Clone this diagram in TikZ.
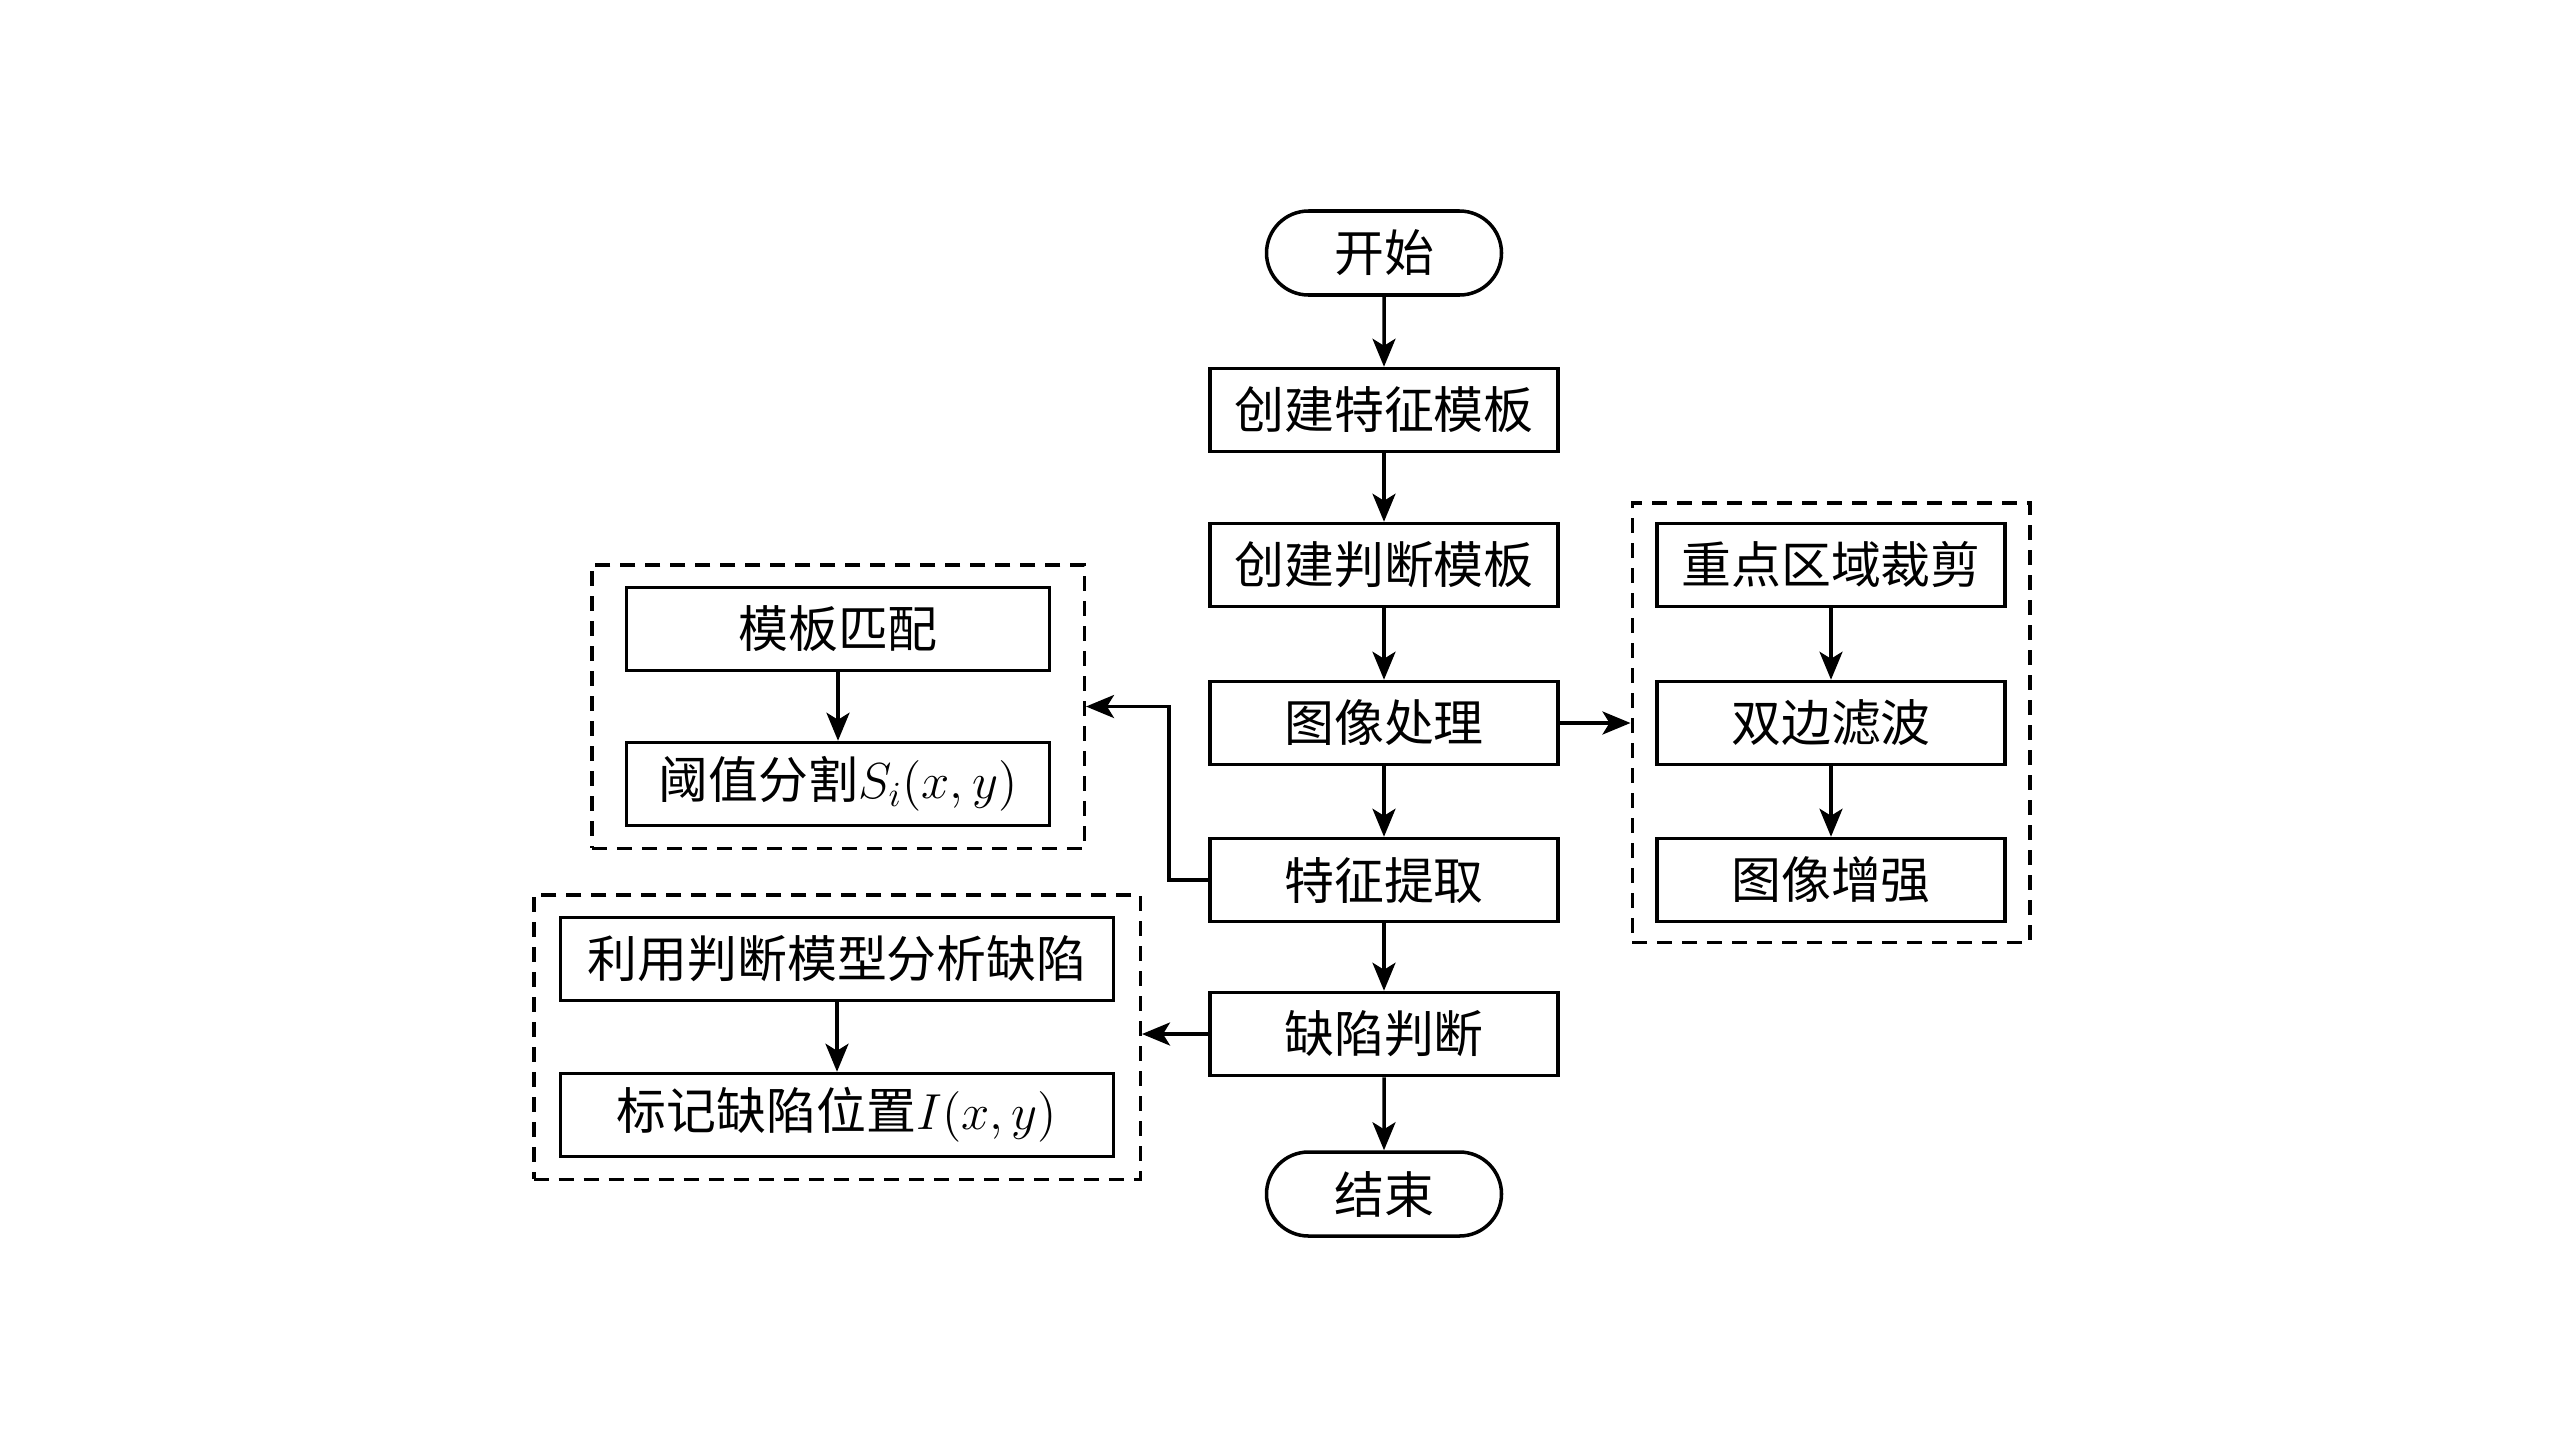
\documentclass[tikz,border=0pt]{standalone}
\usepackage{fontspec}
\newfontfamily\cjk{Noto Sans CJK SC}
\usepackage{tikz}
\usetikzlibrary{arrows.meta}
\usetikzlibrary{shapes.misc}
\usetikzlibrary{fit}
\newcommand{\boxfont}{\cjk\fontsize{14.2}{17}\selectfont}
\tikzset{
	termstyle/.style={rounded rectangle,draw=black,line width=1pt,minimum width=2.35cm,minimum height=0.84cm,inner sep=0pt,font=\boxfont},
	boxstyle/.style={rectangle,draw=black,line width=1pt,minimum width=3.48cm,minimum height=0.83cm,inner sep=0pt,font=\boxfont},
	groupstyle/.style={rectangle,draw=black,line width=1pt,dash pattern=on 1.5mm off 1mm},
	arrowstyle/.style={-{Stealth[length=2.8mm,width=2.3mm,inset=0.7mm]},line width=1pt}
}

\begin{document}
\begin{tikzpicture}
		\useasboundingbox (0,0) rectangle (25.6,-14.4);
		% main column
		\node[termstyle] (start) at (13.84,-2.53) {开始};
		\node[boxstyle] (mkfeat) at (13.84,-4.10) {创建特征模板};
		\node[boxstyle] (mkjudge) at (13.84,-5.65) {创建判断模板};
		\node[boxstyle] (imgproc) at (13.84,-7.23) {图像处理};
		\node[boxstyle] (featext) at (13.84,-8.80) {特征提取};
		\node[boxstyle] (defjudge) at (13.84,-10.34) {缺陷判断};
		\node[termstyle] (finish) at (13.84,-11.94) {结束};
		% image processing group
		\node[boxstyle] (crop) at (18.31,-5.65) {重点区域裁剪};
		\node[boxstyle] (filter) at (18.31,-7.23) {双边滤波};
		\node[boxstyle] (enhance) at (18.31,-8.80) {图像增强};
		\node[groupstyle,fit=(crop)(enhance),inner xsep=0.23cm,inner ysep=0.19cm] (grpproc) {};
		% feature group
		\node[boxstyle,minimum width=4.23cm] (match) at (8.38,-6.29) {模板匹配};
		\node[boxstyle,minimum width=4.23cm] (thresh) at (8.38,-7.84) {阈值分割$S_i(x,y)$};
		\node[groupstyle,fit=(match)(thresh),inner xsep=0.33cm,inner ysep=0.21cm] (grpfeat) {};
		% defect group
		\node[boxstyle,minimum width=5.53cm] (analyse) at (8.37,-9.59) {利用判断模型分析缺陷};
		\node[boxstyle,minimum width=5.53cm] (mark) at (8.37,-11.15) {标记缺陷位置$I(x,y)$};
		\node[groupstyle,fit=(analyse)(mark),inner xsep=0.25cm,inner ysep=0.21cm] (grpdef) {};
		% connectors
		\draw[arrowstyle] (start)--(mkfeat);
		\draw[arrowstyle] (mkfeat)--(mkjudge);
		\draw[arrowstyle] (mkjudge)--(imgproc);
		\draw[arrowstyle] (imgproc)--(featext);
		\draw[arrowstyle] (featext)--(defjudge);
		\draw[arrowstyle] (defjudge)--(finish);
		\draw[arrowstyle] (crop)--(filter);
		\draw[arrowstyle] (filter)--(enhance);
		\draw[arrowstyle] (match)--(thresh);
		\draw[arrowstyle] (analyse)--(mark);
		\draw[arrowstyle] (imgproc.east)--(imgproc.east -| grpproc.west);
		\draw[arrowstyle] (featext.west)--++(-0.39,0) |- (grpfeat.east);
		\draw[arrowstyle] (defjudge.west)--(defjudge.west -| grpdef.east);
\end{tikzpicture}
\end{document}
